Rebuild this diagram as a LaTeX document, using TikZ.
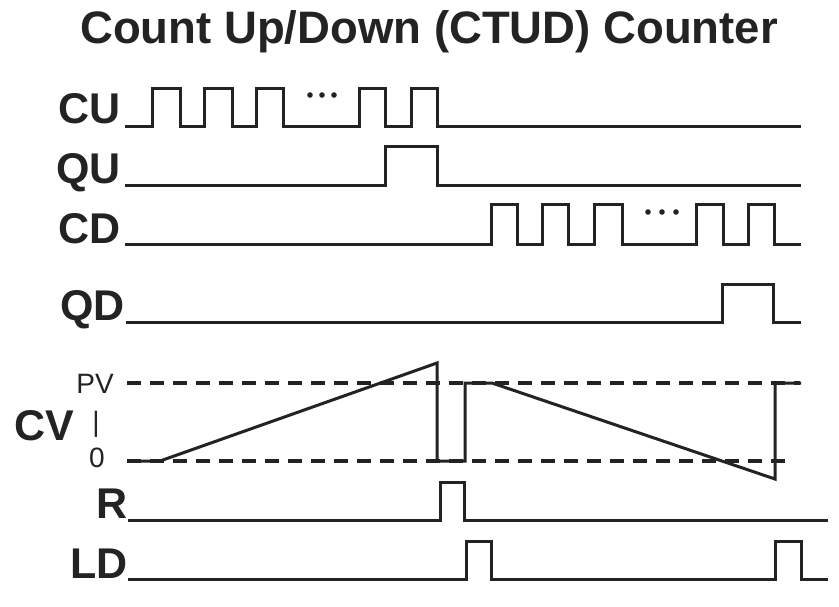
\documentclass[tikz,border=0pt]{standalone}
\usepackage{fontspec}
\setmainfont{Liberation Sans}
\definecolor{ink}{RGB}{35,35,35}
\begin{document}
\begin{tikzpicture}[x=1pt,y=-1pt,
  wave/.style={line width=3pt, color=ink, line join=miter, line cap=butt},
  level/.style={line width=4pt, color=ink, dash pattern=on 14pt off 9pt},
  siglabel/.style={inner sep=0pt, anchor=base east, text=ink, font=\fontsize{43}{50}\selectfont\bfseries},
  scalelabel/.style={inner sep=0pt, text=ink, font=\fontsize{28}{32}\selectfont},
  dots/.style={fill=ink}]
  % canvas
  \fill[white] (0,0) rectangle (839,606);
  \useasboundingbox (0,0) rectangle (839,606);

  % title
  \node[inner sep=0pt, anchor=base, text=ink, font=\fontsize{45.5}{52}\selectfont\bfseries]
    (title) at (429,43) {Count Up/Down (CTUD) Counter};

  % signal names
  \node[siglabel] (cu) at (121,123) {CU};
  \node[siglabel] (qu) at (121,183) {QU};
  \node[siglabel] (cd) at (121,243) {CD};
  \node[siglabel] (qd) at (125,320) {QD};
  \node[siglabel] (r)  at (128,518) {R};
  \node[siglabel] (ld) at (128,578) {LD};
  \node[siglabel, anchor=base west] (cv) at (14,440) {CV};

  % CV scale marks
  \node[scalelabel, anchor=base] (pv) at (95,393) {PV};
  \node[scalelabel, anchor=base] (bar) at (96,431) {|};
  \node[scalelabel, anchor=base] (zero) at (97,467) {0};

  % CU: count-up pulse train
  \draw[wave] (125,126) -- (152,126) -- (152,88) -- (180,88) -- (180,126)
    -- (204,126) -- (204,88) -- (232,88) -- (232,126)
    -- (256,126) -- (256,88) -- (283,88) -- (283,126)
    -- (359,126) -- (359,88) -- (385,88) -- (385,126)
    -- (411,126) -- (411,88) -- (437,88) -- (437,126) -- (801,126);
  \foreach \x in {310,322,334} \fill[dots] (\x,95) circle (2.8pt);

  % QU: up output
  \draw[wave] (125,185) -- (385,185) -- (385,146) -- (437,146) -- (437,185) -- (801,185);

  % CD: count-down pulse train
  \draw[wave] (125,244) -- (491,244) -- (491,204) -- (517,204) -- (517,244)
    -- (542,244) -- (542,204) -- (568,204) -- (568,244)
    -- (594,244) -- (594,204) -- (622,204) -- (622,244)
    -- (696,244) -- (696,204) -- (723,204) -- (723,244)
    -- (748,244) -- (748,204) -- (774,204) -- (774,244) -- (801,244);
  \foreach \x in {648,662,676} \fill[dots] (\x,212) circle (2.8pt);

  % QD: down output
  \draw[wave] (126,322) -- (722,322) -- (722,284) -- (773,284) -- (773,322) -- (801,322);

  % CV: preset and zero levels
  \draw[level] (127,383) -- (800,383);
  \draw[level] (127,461) -- (792,461);

  % CV: accumulated value
  \draw[wave] (127,461) -- (160,461) -- (437,363) -- (437,461) -- (465,461)
    -- (465,383) -- (492,383) -- (775,479) -- (775,383) -- (801,383);

  % R: reset
  \draw[wave] (128,520) -- (440,520) -- (440,482) -- (464,482) -- (464,520) -- (828,520);

  % LD: load
  \draw[wave] (128,579) -- (466,579) -- (466,541) -- (491,541) -- (491,579)
    -- (775,579) -- (775,541) -- (801,541) -- (801,579) -- (828,579);
\end{tikzpicture}
\end{document}
